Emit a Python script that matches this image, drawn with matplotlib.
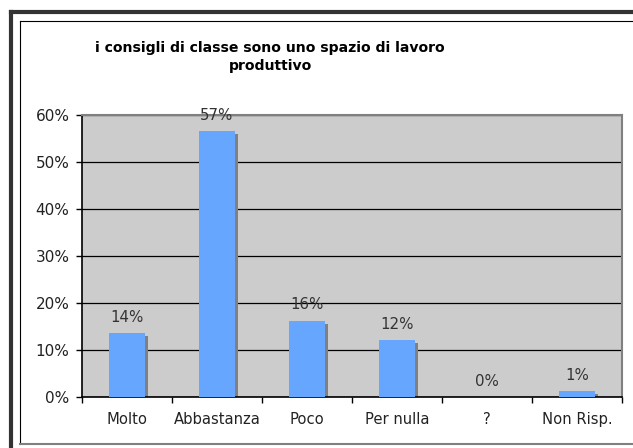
import matplotlib
matplotlib.use("Agg")
import matplotlib.pyplot as plt
from matplotlib.lines import Line2D
from matplotlib.ticker import MultipleLocator, PercentFormatter

categories = ["Molto", "Abbastanza", "Poco", "Per nulla", "?", "Non Risp."]
values     = [0.136, 0.566, 0.162, 0.121, 0.0, 0.012]
labels     = ["14%", "57%", "16%", "12%", "0%", "1%"]
title      = "i consigli di classe sono uno spazio di lavoro\nproduttivo"

W, H = 633, 448
fig = plt.figure(figsize=(W / 100, H / 100), dpi=100)
fig.patch.set_facecolor("white")

def fx(px): return px / W
def fy(py): return 1 - py / H

# ── chart frame (thick outer shadow line + thin inner border) ─────────────────
fig.add_artist(Line2D([fx(11), fx(11)], [fy(12), fy(460)], color="#333333", lw=3.0))
fig.add_artist(Line2D([fx(11), fx(640)], [fy(12), fy(12)], color="#333333", lw=3.0))
fig.add_artist(Line2D([fx(20), fx(20)], [fy(21), fy(444)], color="black", lw=0.8))
fig.add_artist(Line2D([fx(20), fx(640)], [fy(21), fy(21)], color="black", lw=0.8))
fig.add_artist(Line2D([fx(20), fx(640)], [fy(444), fy(444)], color="#808080", lw=1.5))

fig.text(fx(270), fy(57), title, ha="center", va="center",
         fontsize=10.1, fontweight="bold", linespacing=1.45)

# ── plot area ──────────────────────────────────────────────────────────────────
ax = fig.add_axes([fx(82), fy(397), fx(622) - fx(82), fy(115) - fy(397)])
ax.set_facecolor("#CCCCCC")
x = list(range(len(categories)))
width = 0.41

# shadow bars, offset right/down a few pixels
dx = 3 / ((622 - 82) / 6)
dy = 3 / (282 / 0.6)
ax.bar([i + dx for i in x], [max(v - dy, 0) for v in values], width=width,
       color="#808080", zorder=2)
ax.bar(x, values, width=width, color="#66A6FF", zorder=3)

for i, (v, lab) in enumerate(zip(values, labels)):
    ax.annotate(lab, (i, v), xytext=(0, 11.5), textcoords="offset points",
                ha="center", va="center", fontsize=10.8, color="#333333")

ax.set_xlim(-0.5, len(categories) - 0.5)
ax.set_ylim(0, 0.6)
ax.yaxis.set_major_locator(MultipleLocator(0.1))
ax.yaxis.set_major_formatter(PercentFormatter(1.0, decimals=0))
ax.grid(axis="y", color="black", lw=0.9, zorder=1)
ax.set_axisbelow(True)

ax.set_xticks([i - 0.5 for i in range(len(categories) + 1)], minor=False)
ax.set_xticklabels([])
ax.set_xticks(x, minor=True)
ax.set_xticklabels(categories, minor=True)
ax.tick_params(axis="x", which="major", length=4, direction="out", width=1)
ax.tick_params(axis="x", which="minor", length=0, pad=11, labelsize=10.6,
               labelcolor="#222222")
ax.tick_params(axis="y", length=4, direction="out", width=1, pad=5, labelsize=11,
               labelcolor="#222222")

for s in ("left", "bottom"):
    ax.spines[s].set_color("black")
    ax.spines[s].set_linewidth(1.2)
for s in ("top", "right"):
    ax.spines[s].set_color("#808080")
    ax.spines[s].set_linewidth(1.5)

fig.savefig("out.png", dpi=100)
